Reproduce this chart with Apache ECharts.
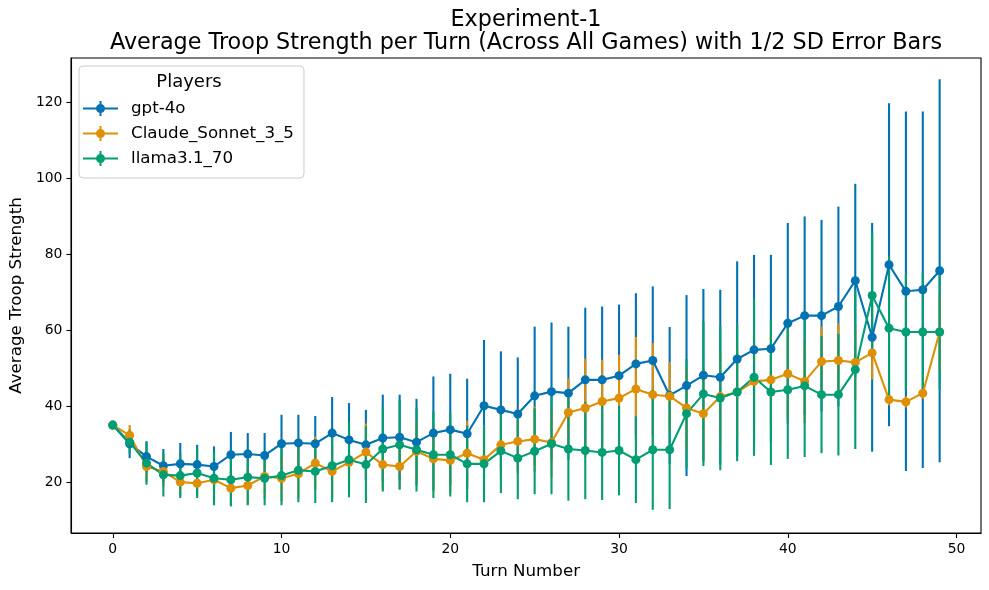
<!DOCTYPE html>
<html>
<head>
    <meta charset="utf-8">
    <title>Experiment-1</title>
    <script src="https://cdn.jsdelivr.net/npm/echarts@6/dist/echarts.min.js"></script>
</head>
<body style="margin:0">
    <div id="chart" style="width: 989px;height:590px;"></div>
    <script type="text/javascript">
        // turn numbers 0..49
        var turns = [];
        for (var t = 0; t < 50; t++) turns.push(t);

        var players = ['gpt-4o', 'Claude_Sonnet_3_5', 'llama3.1_70'];
        var colors = ['#0173b2', '#de8f05', '#029e73'];

        // average troop strength per turn
        var gpt4o = [35.0, 30.1, 26.7, 24.3, 24.8, 24.6, 24.1, 27.2, 27.4, 27.0,
                     30.1, 30.3, 30.1, 32.9, 31.1, 29.8, 31.6, 31.8, 30.5, 32.9,
                     33.8, 32.7, 40.1, 39.0, 37.9, 42.7, 43.8, 43.4, 46.9, 46.9,
                     48.0, 51.1, 52.0, 42.8, 45.4, 48.1, 47.6, 52.4, 54.8, 55.1,
                     61.8, 63.8, 63.8, 66.2, 73.0, 58.1, 77.2, 70.2, 70.6, 75.6];
        var claude = [35.0, 32.3, 24.1, 22.8, 20.0, 19.7, 20.6, 18.4, 19.1, 21.5,
                      21.0, 22.2, 25.0, 22.8, 25.2, 27.9, 24.6, 24.1, 28.1, 26.1,
                      25.7, 27.6, 25.9, 29.8, 30.7, 31.3, 30.4, 38.3, 39.5, 41.2,
                      42.1, 44.5, 43.0, 42.6, 39.5, 38.0, 42.5, 43.7, 46.5, 46.9,
                      48.5, 46.5, 51.7, 52.0, 51.5, 54.0, 41.7, 41.1, 43.4, 59.5];
        var llama = [35.0, 30.5, 25.0, 21.9, 21.7, 22.4, 21.0, 20.6, 21.3, 21.0,
                     21.7, 23.1, 22.8, 24.3, 25.9, 24.6, 28.7, 29.8, 28.5, 27.2,
                     27.2, 24.8, 24.8, 28.2, 26.3, 28.1, 30.1, 28.7, 28.3, 27.8,
                     28.3, 25.9, 28.5, 28.5, 38.0, 43.2, 42.1, 43.7, 47.6, 43.7,
                     44.3, 45.3, 43.0, 43.0, 49.6, 69.1, 60.5, 59.5, 59.5, 59.5];

        // half standard deviation per turn
        var gpt4oErr = [0.5, 3.8, 4.0, 4.4, 5.5, 5.2, 5.3, 6.0, 5.5, 5.9,
                        7.6, 7.4, 7.3, 9.5, 9.7, 9.2, 11.4, 11.2, 11.4, 14.9,
                        14.7, 14.5, 17.3, 15.4, 14.9, 18.2, 18.2, 17.5, 19.0, 19.3,
                        18.7, 18.6, 19.5, 18.0, 23.8, 22.7, 23.0, 25.7, 25.0, 24.7,
                        26.4, 26.1, 25.2, 26.3, 25.5, 30.1, 42.5, 47.3, 46.9, 50.4];
        var claudeErr = [0.5, 2.7, 4.0, 4.0, 3.8, 3.6, 5.5, 4.5, 5.0, 6.0,
                         6.0, 6.5, 7.0, 7.0, 7.5, 7.5, 6.5, 6.0, 8.0, 8.5,
                         8.5, 8.5, 9.0, 9.0, 8.5, 8.6, 9.0, 9.0, 13.0, 11.0,
                         11.4, 13.7, 13.6, 9.0, 11.0, 12.0, 12.0, 12.0, 12.0, 12.0,
                         12.0, 11.0, 9.2, 9.8, 10.0, 7.0, 1.5, 1.5, 1.5, 10.0];
        var llamaErr = [0.5, 3.0, 5.7, 5.7, 5.9, 6.6, 7.1, 7.0, 7.4, 7.1,
                        7.8, 8.4, 8.3, 9.6, 9.9, 10.1, 11.2, 11.8, 11.0, 11.4,
                        11.0, 10.1, 10.1, 11.1, 10.8, 11.3, 13.3, 13.6, 12.8, 12.5,
                        11.8, 11.4, 15.8, 15.6, 14.4, 19.0, 19.0, 18.2, 20.7, 19.2,
                        18.2, 18.7, 15.4, 16.0, 20.9, 16.4, 18.9, 15.4, 15.5, 15.1];

        var xTicks = [0, 10, 20, 30, 40, 50];
        var yTicks = [20, 40, 60, 80, 100, 120];

        var means = [gpt4o, claude, llama];
        var errs = [gpt4oErr, claudeErr, llamaErr];

        // legend handle: line + vertical error bar + dot
        var handle = 'path://M0,6.5 L35,6.5 L35,8.5 L0,8.5 Z M16.5,0 L18.5,0 L18.5,15 L16.5,15 Z M13,7.5 A4.5,4.5 0 1,1 22,7.5 A4.5,4.5 0 1,1 13,7.5 Z';

        var font = 'DejaVu Sans';
        var series = [];

        // error bars first, lines drawn above
        players.forEach(function (name, k) {
            var data = turns.map(function (x, i) {
                return [x, means[k][i] - errs[k][i], means[k][i] + errs[k][i]];
            });
            series.push({
                name: name + ' err',
                type: 'custom',
                z: 1,
                silent: true,
                encode: { x: 0, y: [1, 2] },
                data: data,
                renderItem: function (params, api) {
                    var lo = api.coord([api.value(0), api.value(1)]);
                    var hi = api.coord([api.value(0), api.value(2)]);
                    return {
                        type: 'line',
                        shape: { x1: lo[0], y1: lo[1], x2: hi[0], y2: hi[1] },
                        style: { stroke: colors[k], lineWidth: 2.1 }
                    };
                }
            });
        });
        players.forEach(function (name, k) {
            series.push({
                name: name,
                type: 'line',
                z: 3,
                symbol: 'circle',
                symbolSize: 9,
                showAllSymbol: true,
                color: colors[k],
                lineStyle: { width: 2.1, color: colors[k] },
                itemStyle: { color: colors[k] },
                data: turns.map(function (x, i) { return [x, means[k][i]]; })
            });
        });

        var chart = echarts.init(document.getElementById('chart'));
        var option = {
            backgroundColor: '#fff',
            animation: false,
            textStyle: { fontFamily: font },
            title: [{
                text: 'Experiment-1\nAverage Troop Strength per Turn (Across All Games) with 1/2 SD Error Bars',
                left: 526,
                top: 8,
                padding: 0,
                textAlign: 'center',
                textStyle: { fontFamily: font, fontSize: 22.3, fontWeight: 'normal', color: '#000', lineHeight: 23.5 }
            }, {
                text: 'Players',
                left: 189,
                top: 73,
                padding: 0,
                textAlign: 'center',
                textStyle: { fontFamily: font, fontSize: 18, fontWeight: 'normal', color: '#000' }
            }],
            legend: {
                data: players,
                orient: 'vertical',
                left: 79,
                top: 66,
                padding: [34, 10, 11, 4],
                itemGap: 8,
                itemWidth: 35,
                itemHeight: 15,
                icon: handle,
                borderColor: '#cccccc',
                borderWidth: 1,
                borderRadius: 4,
                backgroundColor: 'rgba(255,255,255,0.8)',
                textStyle: { fontFamily: font, fontSize: 16.7, color: '#000', padding: [0, 0, 0, 8] }
            },
            grid: { left: 71, right: 8, top: 58, bottom: 57 },
            xAxis: {
                type: 'value',
                min: -2.45,
                max: 51.45,
                name: 'Turn Number',
                nameLocation: 'middle',
                nameGap: 30,
                nameTextStyle: { fontFamily: font, fontSize: 16.7, color: '#000' },
                axisLine: { onZero: false, lineStyle: { color: '#000', width: 1.1 } },
                axisTick: { show: true, length: 5, customValues: xTicks, lineStyle: { color: '#000', width: 1.1 } },
                axisLabel: { customValues: xTicks, color: '#000', fontSize: 13.9, fontFamily: font, margin: 9 },
                splitLine: { show: false }
            },
            yAxis: {
                type: 'value',
                min: 6.6,
                max: 131.6,
                name: 'Average Troop Strength',
                nameLocation: 'middle',
                nameGap: 42,
                nameTextStyle: { fontFamily: font, fontSize: 16.7, color: '#000' },
                axisLine: { show: true, onZero: false, lineStyle: { color: '#000', width: 1.1 } },
                axisTick: { show: true, length: 5, customValues: yTicks, lineStyle: { color: '#000', width: 1.1 } },
                axisLabel: { customValues: yTicks, color: '#000', fontSize: 13.9, fontFamily: font, margin: 9 },
                splitLine: { show: false }
            },
            series: series
        };
        chart.setOption(option);

        // right and top spines
        chart.setOption({
            graphic: [{
                type: 'rect',
                silent: true,
                z: 0,
                shape: { x: 71, y: 58, width: 910, height: 475 },
                style: { fill: 'none', stroke: '#000', lineWidth: 1.1 }
            }]
        });
    </script>
</body>
</html>
